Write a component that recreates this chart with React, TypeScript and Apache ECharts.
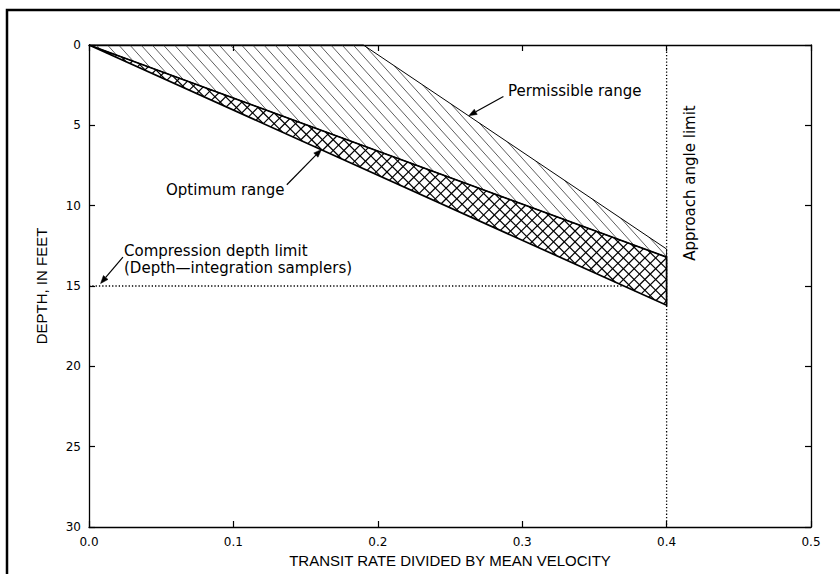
import React, { useEffect, useRef } from 'react';
import * as echarts from 'echarts';

// Axis tick labels
const xTickLabels = ['0.0', '0.1', '0.2', '0.3', '0.4', '0.5'];
const yTickLabels = ['0', '5', '10', '15', '20', '25', '30'];

// Permissible range (transit rate / mean velocity, depth in feet)
const permissibleX = [0, 0.19, 0.4, 0.4];
const permissibleDepth = [0, 0, 12.7, 13.2];

// Optimum range
const optimumX = [0, 0.4, 0.4];
const optimumDepth = [0, 13.2, 16.2];

// Compression depth limit (dotted)
const compressionX = [0, 0.37];
const compressionDepth = [15, 15];

// Approach angle limit (dotted)
const approachX = [0.4, 0.4];
const approachDepth = [0, 30];

// Annotation arrows: [fromX, fromDepth, toX, toDepth]
const permissibleArrow = [0.287, 3.2, 0.263, 4.4];
const optimumArrow = [0.137, 8.7, 0.161, 6.5];
const compressionArrow = [0.0235, 13.2, 0.008, 14.85];

const FONT = '"DejaVu Sans", sans-serif';
const AXFONT = '"Liberation Sans", Arial, sans-serif';

function hatch(poly: number[][], angleDeg: number, spacing: number): number[][][] {
  const a = (angleDeg * Math.PI) / 180;
  const d = [Math.cos(a), Math.sin(a)];
  const n = [-d[1], d[0]];
  const proj = poly.map((p) => p[0] * n[0] + p[1] * n[1]);
  const tmin = Math.min(...proj);
  const tmax = Math.max(...proj);
  const segs: number[][][] = [];
  for (let t = Math.ceil(tmin / spacing) * spacing; t <= tmax; t += spacing) {
    const pts: number[][] = [];
    for (let i = 0; i < poly.length; i++) {
      const j = (i + 1) % poly.length;
      const a1 = proj[i] - t;
      const b1 = proj[j] - t;
      if ((a1 < 0 && b1 >= 0) || (a1 >= 0 && b1 < 0)) {
        const f = a1 / (a1 - b1);
        pts.push([poly[i][0] + (poly[j][0] - poly[i][0]) * f, poly[i][1] + (poly[j][1] - poly[i][1]) * f]);
      }
    }
    if (pts.length >= 2) {
      pts.sort((p, q) => p[0] * d[0] + p[1] * d[1] - (q[0] * d[0] + q[1] * d[1]));
      segs.push([pts[0], pts[pts.length - 1]]);
    }
  }
  return segs;
}

function hatchedRegion(
  xs: number[],
  ys: number[],
  angles: number[],
  spacing: number,
  hatchColor: string,
  hatchWidth: number,
  outlineWidth: number
) {
  return (params: any, api: any) => {
    const poly = xs.map((x, i) => api.coord([x, ys[i]]));
    const children: any[] = [];
    angles.forEach((ang) => {
      hatch(poly, ang, spacing).forEach((s) => {
        children.push({
          type: 'line',
          shape: { x1: s[0][0], y1: s[0][1], x2: s[1][0], y2: s[1][1] },
          style: { stroke: hatchColor, lineWidth: hatchWidth },
        });
      });
    });
    children.push({
      type: 'polygon',
      shape: { points: poly },
      style: { fill: 'none', stroke: '#000', lineWidth: outlineWidth },
    });
    return { type: 'group', children };
  };
}

const arrows = [permissibleArrow, optimumArrow, compressionArrow];

function renderArrow(params: any, api: any) {
  const a = arrows[params.dataIndex];
  const p0 = api.coord([a[0], a[1]]);
  const p1 = api.coord([a[2], a[3]]);
  const dx = p1[0] - p0[0];
  const dy = p1[1] - p0[1];
  const len = Math.sqrt(dx * dx + dy * dy);
  const ux = dx / len;
  const uy = dy / len;
  const hl = 8;
  const hw = 3;
  const bx = p1[0] - ux * hl;
  const by = p1[1] - uy * hl;
  return {
    type: 'group',
    children: [
      {
        type: 'polyline',
        shape: { points: [[p0[0], p0[1]], [bx, by]] },
        style: { stroke: '#000', lineWidth: 1.2, fill: 'none' },
      },
      {
        type: 'polygon',
        shape: {
          points: [
            [p1[0], p1[1]],
            [bx - uy * hw, by + ux * hw],
            [bx + uy * hw, by - ux * hw],
          ],
        },
        style: { fill: '#000', stroke: '#000', lineWidth: 0.5 },
      },
    ],
  };
}

const pairs = (xs: number[], ys: number[]) => xs.map((x, i) => [x, ys[i]]);

export default function App() {
  const ref = useRef<HTMLDivElement>(null);
  useEffect(() => {
    if (!ref.current) return;
    const chart = echarts.init(ref.current, undefined, { renderer: 'svg' });
    const axisLine = { show: true, onZero: false, lineStyle: { color: '#000', width: 1.3 } };
    const axisTick = { show: true, inside: true, length: 6, lineStyle: { color: '#000', width: 1.2 } };
    const option: any = {
      animation: false,
      backgroundColor: '#fff',
      grid: { left: 89, right: 29, top: 45, bottom: 47 },
      xAxis: [
        {
          type: 'value',
          min: 0,
          max: 0.5,
          interval: 0.1,
          position: 'bottom',
          axisLine,
          axisTick,
          splitLine: { show: false },
          axisLabel: {
            color: '#000',
            fontSize: 12,
            fontFamily: FONT,
            margin: 9,
            formatter: (v: number) => xTickLabels[Math.round(v / 0.1)],
          },
          name: 'TRANSIT RATE DIVIDED BY MEAN VELOCITY',
          nameLocation: 'middle',
          nameGap: 26,
          nameTextStyle: { color: '#000', fontSize: 15, fontFamily: AXFONT },
        },
        {
          type: 'value',
          min: 0,
          max: 0.5,
          interval: 0.1,
          position: 'top',
          axisLine,
          axisTick,
          splitLine: { show: false },
          axisLabel: { show: false },
        },
      ],
      yAxis: [
        {
          type: 'value',
          min: 0,
          max: 30,
          interval: 5,
          inverse: true,
          position: 'left',
          axisLine,
          axisTick,
          splitLine: { show: false },
          axisLabel: {
            color: '#000',
            fontSize: 12,
            fontFamily: FONT,
            margin: 8,
            formatter: (v: number) => yTickLabels[Math.round(v / 5)],
          },
          name: 'DEPTH, IN FEET',
          nameLocation: 'middle',
          nameGap: 40,
          nameTextStyle: { color: '#000', fontSize: 15, fontFamily: AXFONT },
        },
        {
          type: 'value',
          min: 0,
          max: 30,
          interval: 5,
          inverse: true,
          position: 'right',
          axisLine,
          axisTick,
          splitLine: { show: false },
          axisLabel: { show: false },
        },
      ],
      series: [
        {
          type: 'custom',
          name: 'Permissible range',
          coordinateSystem: 'cartesian2d',
          data: [[0, 0]],
          silent: true,
          renderItem: hatchedRegion(permissibleX, permissibleDepth, [48], 8.3, '#333', 0.8, 1),
          z: 2,
        },
        {
          type: 'custom',
          name: 'Optimum range',
          coordinateSystem: 'cartesian2d',
          data: [[0, 0]],
          silent: true,
          renderItem: hatchedRegion(optimumX, optimumDepth, [45, 135], 7.6, '#000', 1.2, 1.7),
          z: 3,
        },
        {
          type: 'line',
          name: 'Compression depth limit',
          data: pairs(compressionX, compressionDepth),
          symbol: 'none',
          lineStyle: { color: '#000', width: 1.3, type: [1.3, 2] },
          z: 1,
        },
        {
          type: 'line',
          name: 'Approach angle limit',
          data: pairs(approachX, approachDepth),
          symbol: 'none',
          lineStyle: { color: '#000', width: 1.3, type: [1.3, 2] },
          z: 1,
        },
        {
          type: 'custom',
          name: 'Annotation arrows',
          coordinateSystem: 'cartesian2d',
          data: arrows.map((a) => [a[2], a[3]]),
          silent: true,
          clip: false,
          renderItem: renderArrow,
          z: 4,
        },
      ],
      graphic: [
        {
          type: 'rect',
          shape: { x: 7, y: 10, width: 1000, height: 1000 },
          style: { fill: 'none', stroke: '#000', lineWidth: 2.5 },
          silent: true,
        },
        {
          type: 'text',
          x: 508,
          y: 91,
          style: { text: 'Permissible range', font: `15px ${FONT}`, fill: '#000', verticalAlign: 'middle', align: 'left' },
        },
        {
          type: 'text',
          x: 166,
          y: 190,
          style: { text: 'Optimum range', font: `15px ${FONT}`, fill: '#000', verticalAlign: 'middle', align: 'left' },
        },
        {
          type: 'text',
          x: 124,
          y: 251,
          style: { text: 'Compression depth limit', font: `15px ${FONT}`, fill: '#000', verticalAlign: 'middle', align: 'left' },
        },
        {
          type: 'text',
          x: 124,
          y: 268,
          style: { text: '(Depth\u2014integration samplers)', font: `15px ${FONT}`, fill: '#000', verticalAlign: 'middle', align: 'left' },
        },
        {
          type: 'text',
          x: 690,
          y: 183,
          rotation: Math.PI / 2,
          style: { text: 'Approach angle limit', font: `15px ${FONT}`, fill: '#000', verticalAlign: 'middle', align: 'center' },
        },
      ],
    };
    chart.setOption(option);
    return () => chart.dispose();
  }, []);
  return (
    <div
      ref={ref}
      style={{ position: 'fixed', left: 0, top: 0, width: 840, height: 574, background: '#fff' }}
    />
  );
}
